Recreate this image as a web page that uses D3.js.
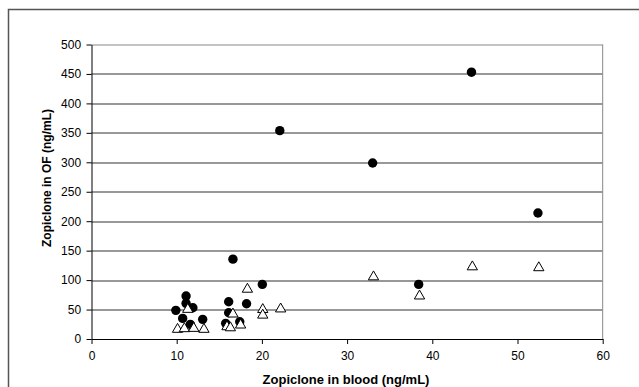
<!DOCTYPE html>
<html>
<head>
<meta charset="utf-8">
<script src="https://cdn.jsdelivr.net/npm/d3@7"></script>
<style>
  html, body { margin: 0; padding: 0; background: #fff; }
  svg { display: block; font-family: Arial, "Liberation Sans", sans-serif; }
</style>
</head>
<body>
<svg id="chart" width="639" height="387"></svg>
<script>
// blood vs oral fluid zopiclone, circles and triangles
const circleBlood = [9.9, 10.7, 11.1, 11.1, 11.6, 11.9, 13.05, 15.75, 16.1, 16.1, 16.6, 17.4, 18.2, 20.05, 22.1, 33.0, 38.4, 44.6, 52.4]
const circleOF = [48.6, 35, 72.9, 60.5, 24.9, 53, 33.4, 26.6, 63.2, 44.6, 135.6, 29.3, 59.8, 92.7, 353.7, 298.8, 92.7, 453, 214]

const triBlood = [10.1, 10.9, 11.3, 12.0, 13.2, 15.9, 16.3, 16.6, 17.5, 18.3, 20.1, 20.1, 22.2, 33.1, 38.5, 44.7, 52.5]
const triOF = [16.4, 17.5, 50.3, 18, 16.4, 20.8, 19, 42.4, 23.7, 84.5, 50, 40.5, 51, 105.5, 73, 122.5, 121]

const xTicks = [0, 10, 20, 30, 40, 50, 60]
const yTicks = [0, 50, 100, 150, 200, 250, 300, 350, 400, 450, 500]

const margin = { top: 44.5, right: 36, bottom: 48, left: 91.5 }

const svg = d3.select('#chart')

// outer frame (right/bottom edge runs off the picture)
svg.append('rect')
  .attr('x', 8.5).attr('y', 9.5)
  .attr('width', 700).attr('height', 500)
  .attr('fill', 'none')
  .attr('stroke', '#555')
  .attr('stroke-width', 1.5)

const aWidth = 602.7 - margin.left
const aHeight = 339 - margin.top

const g = svg.append('g')
  .attr('transform', 'translate(' + margin.left + ',' + margin.top + ')')

const xScale = d3.scaleLinear().domain([0, 60]).range([0, aWidth])
const yScale = d3.scaleLinear().domain([0, 500]).range([aHeight, 0])

// gridlines
g.append('g')
  .selectAll('line')
  .data(yTicks.filter(d => d > 0))
  .join('line')
  .attr('x1', 0).attr('x2', aWidth)
  .attr('y1', d => Math.round(yScale(d)) + 0.5)
  .attr('y2', d => Math.round(yScale(d)) + 0.5)
  .attr('stroke', d => d === 500 ? '#888' : '#333')
  .attr('stroke-width', 1.1)

// plot area right border
g.append('line')
  .attr('x1', aWidth).attr('x2', aWidth)
  .attr('y1', yScale(500)).attr('y2', aHeight)
  .attr('stroke', '#888')

const xAxis = d3.axisBottom(xScale).tickValues(xTicks).tickSize(5).tickSizeOuter(0)
const yAxis = d3.axisLeft(yScale).tickValues(yTicks).tickSize(5).tickSizeOuter(0)

const gx = g.append('g')
  .attr('transform', 'translate(0,' + aHeight + ')')
  .call(xAxis)
gx.selectAll('text').attr('font-size', 12).attr('fill', '#000').attr('dy', '1.05em')

const gy = g.append('g').call(yAxis)
gy.selectAll('text').attr('font-size', 12).attr('fill', '#000').attr('dx', '-0.2em')

svg.selectAll('.domain, .tick line').attr('stroke', '#000')

// markers
g.append('g')
  .selectAll('circle')
  .data(circleBlood.map((b, i) => [b, circleOF[i]]))
  .join('circle')
  .attr('cx', d => xScale(d[0]))
  .attr('cy', d => yScale(d[1]))
  .attr('r', 4.7)
  .attr('fill', '#000')

const tri = d3.symbol().type(d3.symbolTriangle).size(46)
g.append('g')
  .selectAll('path')
  .data(triBlood.map((b, i) => [b, triOF[i]]))
  .join('path')
  .attr('transform', d => 'translate(' + xScale(d[0]) + ',' + yScale(d[1]) + ')')
  .attr('d', tri)
  .attr('fill', '#fff')
  .attr('stroke', '#000')
  .attr('stroke-width', 1)

// axis titles
svg.append('text')
  .attr('x', 346).attr('y', 384)
  .attr('text-anchor', 'middle')
  .attr('font-size', 13).attr('font-weight', 'bold')
  .text('Zopiclone in blood (ng/mL)')

svg.append('text')
  .attr('transform', 'translate(51,178) rotate(-90)')
  .attr('text-anchor', 'middle')
  .attr('font-size', 12).attr('font-weight', 'bold')
  .text('Zopiclone in OF (ng/mL)')
</script>
</body>
</html>
